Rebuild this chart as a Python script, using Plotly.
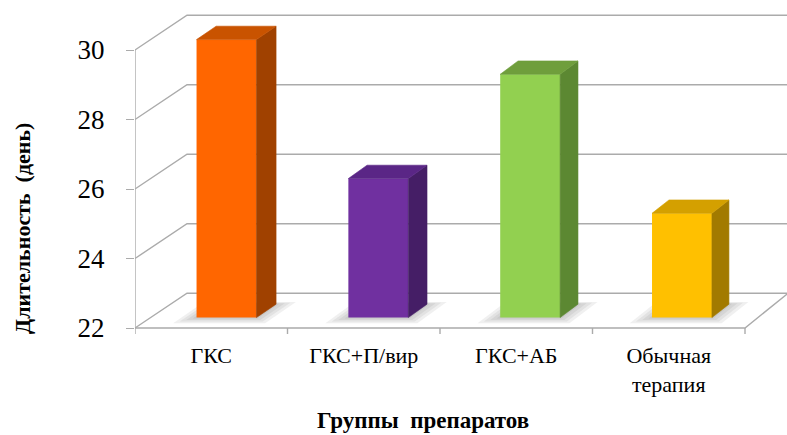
import plotly.graph_objects as go

# ---- data -------------------------------------------------------------
categories = ["ГКС", "ГКС+П/вир", "ГКС+АБ", "Обычная<br>терапия"]
durations = [30, 26, 29, 25]
y_ticks = [22, 24, 26, 28, 30]

front_colors = ["#FF6600", "#7030A0", "#92D050", "#FFC000"]
top_colors = ["#C95300", "#5A2686", "#6F9E3C", "#D4A000"]
side_colors = ["#A04100", "#451E66", "#5C8832", "#A27A00"]

y_title = "Длительность\u00a0 (день)"
x_title = "Группы\u00a0 препаратов"

# ---- page / plot-area geometry (pixels) -------------------------------
W, H = 787, 435
L_PX, R_PX, T_PX, B_PX = 135, 787, 8, 336
PX_PER_CAT = 152.5           # horizontal pixels per category slot
PX_PER_VAL = 34.75           # vertical pixels per day
BASE = 22                    # floor value
FLOOR_PX = 328               # pixel row of the floor front edge

X_MIN = -0.5
X_MAX = X_MIN + (R_PX - L_PX) / PX_PER_CAT
Y_MIN = BASE - (B_PX - FLOOR_PX) / PX_PER_VAL
Y_MAX = BASE + (FLOOR_PX - T_PX) / PX_PER_VAL

# pseudo-3D depth: a full step back moves right (slightly less on the
# right side, for perspective) and up by about one day
DEPTH_DY = 1.0


def depth_dx(xc):
    px = 52 - 9 * (xc - X_MIN) / 4.0
    return px / PX_PER_CAT


def proj(xc, f, v, ref=None):
    r = xc if ref is None else ref
    return xc + f * depth_dx(r), v + f * DEPTH_DY


F0, F1 = 0.30, 0.685         # bar front / back depth
BAR_W = 0.393

GRID = "#ABABAB"
FONT = "Times New Roman, Liberation Serif, DejaVu Serif, serif"

shapes = []


def line_path(points, color=GRID, width=1.4, layer="below"):
    d = "M " + " L ".join(f"{x:.5f},{y:.5f}" for x, y in points)
    shapes.append(dict(type="path", path=d, xref="x", yref="y",
                       line=dict(color=color, width=width), layer=layer))


def poly_path(points, fill, opacity):
    d = "M " + " L ".join(f"{x:.5f},{y:.5f}" for x, y in points) + " Z"
    shapes.append(dict(type="path", path=d, xref="x", yref="y",
                       fillcolor=fill, opacity=opacity,
                       line=dict(width=0), layer="below"))


# back wall gridlines with their diagonals to the front axis
for v in y_ticks:
    bx, by = proj(X_MIN, 1, v)
    line_path([(X_MIN, v), (bx, by), (X_MAX + 0.2, by)])

# front value axis line
line_path([(X_MIN, BASE), (X_MIN, y_ticks[-1])])

# floor front edge and right diagonal
n = len(categories)
x_end = X_MIN + n
rx, ry = proj(x_end, 1, BASE)
line_path([(X_MIN, BASE), (x_end, BASE), (rx, ry)])

# category separators below the floor edge
tick_len = 6 / PX_PER_VAL
for i in range(n + 1):
    xt = X_MIN + i
    line_path([(xt, BASE), (xt, BASE - tick_len)])

# soft floor shadows around each bar footprint
for i, v in enumerate(durations):
    xl, xr = i - BAR_W / 2, i + BAR_W / 2
    for k in range(4):
        s = 1 - k * 0.28
        el, er = 0.10 * s, 0.11 * s
        ef, eb = 0.16 * s, 0.06 * s
        fa, fb = F0 - ef, F1 + eb
        pts = [proj(xl - el, fa, BASE, i), proj(xr + er, fa, BASE, i),
               proj(xr + er, fb, BASE, i), proj(xl - el, fb, BASE, i)]
        poly_path(pts, "#555555", 0.085)

fig = go.Figure()

# front faces
fig.add_trace(go.Bar(
    x=[i + F0 * depth_dx(i) for i in range(n)],
    y=[v - BASE for v in durations],
    base=[BASE + F0 * DEPTH_DY] * n,
    width=BAR_W,
    marker=dict(color=front_colors, line=dict(width=0)),
    hoverinfo="skip",
    showlegend=False,
))

# side and top faces
for i, v in enumerate(durations):
    xl, xr = i - BAR_W / 2, i + BAR_W / 2
    side = [proj(xr, F0, BASE, i), proj(xr, F1, BASE, i),
            proj(xr, F1, v, i), proj(xr, F0, v, i)]
    top = [proj(xl, F0, v, i), proj(xr, F0, v, i),
           proj(xr, F1, v, i), proj(xl, F1, v, i)]
    for pts, col in ((side, side_colors[i]), (top, top_colors[i])):
        xs = [p[0] for p in pts] + [pts[0][0]]
        ys = [p[1] for p in pts] + [pts[0][1]]
        fig.add_trace(go.Scatter(
            x=xs, y=ys, mode="lines", fill="toself", fillcolor=col,
            line=dict(width=0.6, color=col), hoverinfo="skip",
            showlegend=False))


def paper_x(px):
    return (px - L_PX) / (R_PX - L_PX)


def paper_y(py):
    return (B_PX - py) / (B_PX - T_PX)


fig.update_layout(
    width=W, height=H,
    margin=dict(l=L_PX, r=W - R_PX, t=T_PX, b=H - B_PX, pad=0),
    paper_bgcolor="white", plot_bgcolor="white",
    font=dict(family=FONT, color="#000000"),
    shapes=shapes,
    showlegend=False,
    xaxis=dict(range=[X_MIN, X_MAX], showgrid=False, zeroline=False,
               showline=False, ticks="", tickvals=list(range(n)),
               ticktext=categories, fixedrange=True,
               tickfont=dict(family=FONT, size=22, color="#000000"),
               ticklabelstandoff=4),
    yaxis=dict(range=[Y_MIN, Y_MAX], showgrid=False, zeroline=False,
               showline=False, ticks="outside", ticklen=8, tickwidth=1.4,
               tickcolor=GRID, tickvals=y_ticks, fixedrange=True,
               tickfont=dict(family=FONT, size=27, color="#000000"),
               ticklabelstandoff=16),
    annotations=[
        dict(text=f"<b>{y_title}</b>", xref="paper", yref="paper",
             x=paper_x(22), y=paper_y(229), textangle=-90,
             xanchor="center", yanchor="middle", showarrow=False,
             font=dict(family=FONT, size=22, color="#000000")),
        dict(text=f"<b>{x_title}</b>", xref="paper", yref="paper",
             x=paper_x(423), y=paper_y(420),
             xanchor="center", yanchor="middle", showarrow=False,
             font=dict(family=FONT, size=23, color="#000000")),
    ],
)

fig.write_html("out.html")
